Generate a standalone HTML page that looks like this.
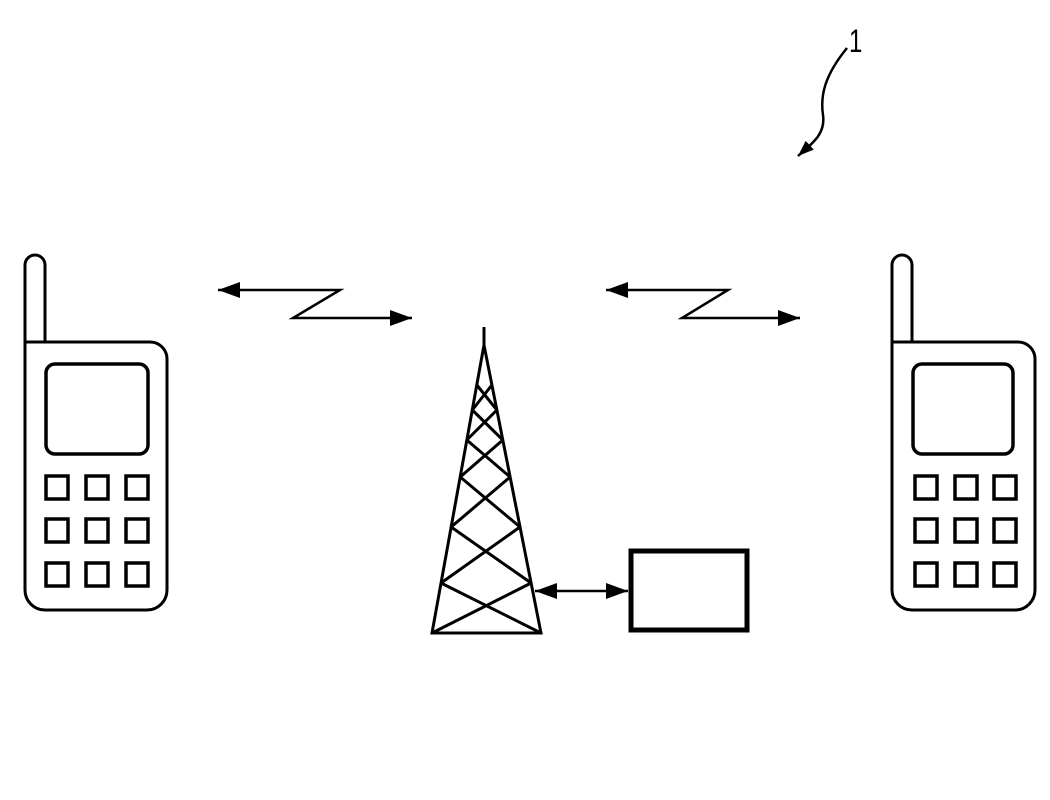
<!DOCTYPE html>
<html><head><style>body{margin:0;background:#fff}svg{display:block}</style></head>
<body>
<svg width="1050" height="800" viewBox="0 0 1050 800" xmlns="http://www.w3.org/2000/svg">
<defs>
<marker id="ah" viewBox="0 0 10 10" refX="10" refY="5" markerWidth="22" markerHeight="16" markerUnits="userSpaceOnUse" orient="auto-start-reverse" preserveAspectRatio="none"><path d="M0,0 L10,5 L0,10 z" fill="#000"/></marker>
<marker id="ah2" viewBox="0 0 10 10" refX="10" refY="5" markerWidth="16" markerHeight="12" markerUnits="userSpaceOnUse" orient="auto" preserveAspectRatio="none"><path d="M0,0 L10,5 L0,10 z" fill="#000"/></marker>
</defs>
<g fill="none" stroke="#000">
<path d="M25,342 V265 a10,10 0 0 1 20,0 V342" stroke-width="3"/>
<path d="M25,342 H150 a17,17 0 0 1 17,17 V590 a20,20 0 0 1 -20,20 H45 a20,20 0 0 1 -20,-20 Z" stroke-width="3"/>
<rect x="46" y="364" width="102" height="90" rx="9" stroke-width="3.5"/>
<g stroke-width="3.5">
<rect x="46" y="476" width="22" height="23"/><rect x="86" y="476" width="22" height="23"/><rect x="126" y="476" width="22" height="23"/>
<rect x="46" y="519" width="22" height="23"/><rect x="86" y="519" width="22" height="23"/><rect x="126" y="519" width="22" height="23"/>
<rect x="46" y="563" width="22" height="23"/><rect x="86" y="563" width="22" height="23"/><rect x="126" y="563" width="22" height="23"/>
</g>
<path d="M892,342 V265 a10,10 0 0 1 20,0 V342" stroke-width="3"/>
<path d="M892,342 H1018 a17,17 0 0 1 17,17 V590 a20,20 0 0 1 -20,20 H912 a20,20 0 0 1 -20,-20 Z" stroke-width="3"/>
<rect x="913" y="364" width="100" height="90" rx="9" stroke-width="3.5"/>
<g stroke-width="3.5">
<rect x="915" y="476" width="22" height="23"/><rect x="955" y="476" width="22" height="23"/><rect x="994" y="476" width="22" height="23"/>
<rect x="915" y="519" width="22" height="23"/><rect x="955" y="519" width="22" height="23"/><rect x="994" y="519" width="22" height="23"/>
<rect x="915" y="563" width="22" height="23"/><rect x="955" y="563" width="22" height="23"/><rect x="994" y="563" width="22" height="23"/>
</g>
<g stroke-width="3">
<path d="M484,327 V345"/>
<path d="M432,633 L484,345 L541,633 Z"/>
<path d="M476.8,385 L496.9,410 M491.9,385 L472.3,410"/>
<path d="M472.3,410 L502.8,440 M496.9,410 L466.8,440"/>
<path d="M466.8,440 L510.1,477 M502.8,440 L460.2,477"/>
<path d="M460.2,477 L520,527 M510.1,477 L451.1,527"/>
<path d="M451.1,527 L531.1,583 M520,527 L441,583"/>
<path d="M441,583 L541,633 M531.1,583 L432,633"/>
</g>
<rect x="631" y="551" width="116" height="79" stroke-width="5"/>
<line x1="535" y1="591" x2="628" y2="591" stroke-width="2.5" marker-start="url(#ah)" marker-end="url(#ah)"/>
<path d="M218,290 H340 L293,318 H412" stroke-width="2.5" marker-start="url(#ah)" marker-end="url(#ah)"/>
<path d="M606,290 H728 L682,318 H800" stroke-width="2.5" marker-start="url(#ah)" marker-end="url(#ah)"/>
<path d="M847,48 C825,75 820,95 823,115 C826,135 810,145 798,156" stroke-width="2.5" marker-end="url(#ah2)"/>
</g>
<text x="849" y="52" font-family="Liberation Sans, sans-serif" font-size="32" fill="#000" transform="translate(849,0) scale(0.75,1) translate(-849,0)">1</text>
</svg>
</body></html>
